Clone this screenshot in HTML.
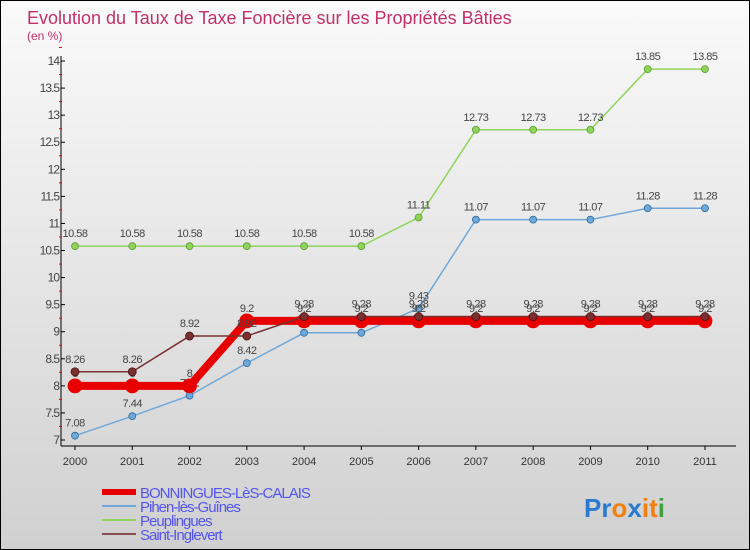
<!DOCTYPE html>
<html><head><meta charset="utf-8"><style>
body{margin:0}
#c{width:748px;height:548px;border:1px solid #000;position:relative;background:linear-gradient(#fafafa,#d0d0d0);font-family:"Liberation Sans",sans-serif;overflow:hidden}
svg text{font-family:"Liberation Sans",sans-serif}
</style></head><body>
<div id="c">
<svg id="s" width="748" height="548"></svg>
</div>
<script>
const years=[2000,2001,2002,2003,2004,2005,2006,2007,2008,2009,2010,2011];
const yTicks=[7,7.5,8,8.5,9,9.5,10,10.5,11,11.5,12,12.5,13,13.5,14];
const bonningues=[8,8,8,9.2,9.2,9.2,9.2,9.2,9.2,9.2,9.2,9.2];
const pihen=[7.08,7.44,7.82,8.42,8.98,8.98,9.43,11.07,11.07,11.07,11.28,11.28];
const peuplingues=[10.58,10.58,10.58,10.58,10.58,10.58,11.11,12.73,12.73,12.73,13.85,13.85];
const saint=[8.26,8.26,8.92,8.92,9.28,9.28,9.28,9.28,9.28,9.28,9.28,9.28];
const names=["BONNINGUES-LèS-CALAIS","Pihen-lès-Guînes","Peuplingues","Saint-Inglevert"];
const NS="http://www.w3.org/2000/svg";
const s=document.getElementById('s');
const X=i=>74+i*57.27, Y=v=>439-(v-7)*54.14;
function el(t,a,p){const e=document.createElementNS(NS,t);for(const k in a)e.setAttribute(k,a[k]);(p||s).appendChild(e);return e;}
let t=el('text',{x:26,y:23,'font-size':18,fill:'#c0306a'});t.textContent="Evolution du Taux de Taxe Foncière sur les Propriétés Bâties";

t=el('text',{x:26,y:39,'font-size':12,fill:'#c0306a'});t.textContent="(en %)";

let a=el('line',{x1:60,y1:55,x2:60,y2:445,stroke:'#000'});
a=el('line',{x1:60,y1:445,x2:735,y2:445,stroke:'#000'});
yTicks.forEach(v=>{el('line',{x1:60,y1:Y(v),x2:64,y2:Y(v),stroke:'#000'});
 el('line',{x1:58,y1:Y(v+0.25),x2:61,y2:Y(v+0.25),stroke:'#e00'});
 const tt=el('text',{x:58,y:Y(v)+4,'font-size':12,fill:'#444','text-anchor':'end','letter-spacing':'-1'});tt.textContent=v;
 });
years.forEach((y,i)=>{el('line',{x1:X(i),y1:445,x2:X(i),y2:449,stroke:'#000'});
 const tt=el('text',{x:X(i),y:464,'font-size':11,fill:'#333','text-anchor':'middle'});tt.textContent=y;
 });
function series(d,col,w,r,name,lab){
 const g=el('g',{});
 el('polyline',{points:d.map((v,i)=>X(i)+','+Y(v)).join(' '),fill:'none',stroke:col,'stroke-width':w},g);
 d.forEach((v,i)=>{const c=el('circle',{cx:X(i),cy:Y(v),r:r,fill:col,stroke:lab,'stroke-width':0.8},g);
  
  const tt=el('text',{x:X(i),y:Y(v)-9,'font-size':11,fill:'#444','text-anchor':'middle','letter-spacing':'-0.5'},g);tt.textContent=v;});
}
series(peuplingues,'#8fd45a',1.5,3.5,'series-peuplingues','#5a9a30');
series(pihen,'#6fa8d8',1.5,3.5,'series-pihen','#2a6a9a');
series(bonningues,'#e80000',8,7,'series-bonningues','#e80000');
series(saint,'#7a3030',1.5,4,'series-saint-inglevert','#4a1010');
const cols=['#e80000','#6fa8d8','#8fd45a','#8a5050'],ws=[6,2,2,2];
names.forEach((n,i)=>{const y=491+i*14;
 const g=el('g',{});
 el('line',{x1:101,y1:y,x2:135,y2:y,stroke:cols[i],'stroke-width':ws[i]},g);
 const tt=el('text',{x:139,y:y+6,'font-size':15,fill:'#5555ee','letter-spacing':'-1'},g);tt.textContent=n;});
const lg=el('text',{x:583,y:516,'font-size':26,'font-weight':'bold'});
[['P','#2a7ad0'],['r','#2a7ad0'],['o','#f08010'],['x','#2a7ad0'],['i','#f08010'],['t','#f08010'],['i','#40a040']].forEach(([c,f])=>{const sp=el('tspan',{fill:f},lg);sp.textContent=c;});
</script>
</body></html>
